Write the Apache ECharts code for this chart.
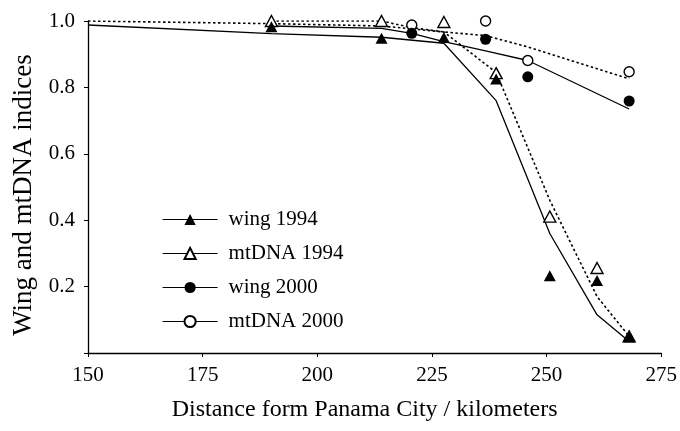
<!DOCTYPE html>
<html>
<head>
<meta charset="utf-8">
<script src="https://cdn.jsdelivr.net/npm/echarts@6/dist/echarts.min.js"></script>
<style>
  html, body { margin: 0; padding: 0; background: #fff; }
  #main { width: 680px; height: 431px; }
</style>
</head>
<body>
<div id="main"></div>
<script>
// sample sites, km from Panama City
const siteKm94 = [190, 214, 227.6, 239, 250.7, 261, 268];
const wing94 = [0.983, 0.948, 0.95, 0.825, 0.233, 0.218, 0.048];
const mtdna94 = [1.0, 1.0, 0.997, 0.843, 0.411, 0.256, 0.05];

const siteKm00 = [220.6, 236.7, 245.9, 268];
const wing00 = [0.963, 0.945, 0.832, 0.759];
const mtdna00 = [0.988, 1.0, 0.881, 0.847];

// fitted clines
const fitWing94Km = [150, 190, 214, 227.6, 239, 250.7, 261, 268];
const fitWing94 = [0.988, 0.962, 0.951, 0.933, 0.76, 0.36, 0.115, 0.035];
const fitMt94Km = [150, 190, 214, 227.6, 239, 250.7, 261, 268];
const fitMt94 = [1.0, 0.992, 0.985, 0.967, 0.845, 0.46, 0.17, 0.05];
const fitWing00Km = [190, 214, 220.6, 227.6, 236.7, 245.9, 268];
const fitWing00 = [0.985, 0.978, 0.963, 0.938, 0.91, 0.881, 0.735];
const fitMt00Km = [190, 214, 220.6, 227.6, 236.7, 245.9, 268];
const fitMt00 = [1.0, 1.0, 0.98, 0.967, 0.956, 0.922, 0.826];

const xTicks = [150, 175, 200, 225, 250, 275];
const legendNames = ['wing 1994', 'mtDNA 1994', 'wing 2000', 'mtDNA 2000'];

const font = 'Liberation Serif';
const pair = (xs, ys) => xs.map((x, i) => [x, ys[i]]);

const pointSeries = (name, xs, ys, symbol, size, filled, z) => ({
  name: name,
  type: 'line',
  data: pair(xs, ys),
  symbol: symbol,
  symbolSize: size,
  showAllSymbol: true,
  lineStyle: { width: 0, opacity: 0 },
  itemStyle: { color: filled ? '#000' : '#fff', borderColor: '#000', borderWidth: filled ? 0 : 1.4, opacity: 1 },
  emphasis: { disabled: true },
  z: z
});

const fitSeries = (name, xs, ys, dotted) => ({
  name: name,
  type: 'line',
  data: pair(xs, ys),
  symbol: 'none',
  lineStyle: { color: '#000', width: dotted ? 1.6 : 1.3, type: dotted ? [2.5, 2.5] : 'solid' },
  emphasis: { disabled: true },
  z: 2
});

const myChart = echarts.init(document.getElementById('main'));
myChart.setOption({
  animation: false,
  backgroundColor: '#fff',
  grid: { left: 88, right: 17, top: 21, bottom: 78 },
  legend: {
    data: legendNames,
    orient: 'vertical',
    left: 162,
    top: 209,
    padding: 0,
    itemWidth: 55,
    itemHeight: 14,
    itemGap: 13,
    textStyle: { fontFamily: font, fontSize: 21, color: '#000', padding: [0, 0, 0, 6] },
    lineStyle: { color: '#000', width: 1.2, opacity: 1, type: 'solid' }
  },
  xAxis: {
    type: 'value',
    min: 150,
    max: 275,
    interval: 25,
    name: 'Distance form Panama City / kilometers',
    nameLocation: 'middle',
    nameGap: 45,
    nameTextStyle: { fontFamily: font, fontSize: 24, color: '#000', padding: [0, 20, 0, 0] },
    axisLine: { lineStyle: { color: '#000', width: 1.3 } },
    axisTick: { length: 4, lineStyle: { color: '#000' } },
    axisLabel: {
      margin: 12, fontFamily: font, fontSize: 21, color: '#000',
      formatter: (v) => xTicks.includes(v) ? String(v) : ''
    },
    splitLine: { show: false }
  },
  yAxis: {
    type: 'value',
    min: 0,
    max: 1,
    interval: 0.2,
    name: 'Wing and mtDNA indices',
    nameLocation: 'middle',
    nameGap: 50,
    nameTextStyle: { fontFamily: font, fontSize: 27, color: '#000', padding: [0, 16, 0, 0] },
    axisLine: { show: true, lineStyle: { color: '#000', width: 1.3 } },
    axisTick: { show: true, length: 4, lineStyle: { color: '#000' } },
    axisLabel: {
      margin: 13, fontFamily: font, fontSize: 21, color: '#000',
      formatter: (v) => v === 0 ? '' : v.toFixed(1)
    },
    splitLine: { show: false }
  },
  series: [
    fitSeries('fit wing 1994', fitWing94Km, fitWing94, false),
    fitSeries('fit wing 2000', fitWing00Km, fitWing00, false),
    fitSeries('fit mtDNA 1994', fitMt94Km, fitMt94, true),
    fitSeries('fit mtDNA 2000', fitMt00Km, fitMt00, true),
    pointSeries('mtDNA 1994', siteKm94, mtdna94, 'triangle', [12, 11], false, 5),
    pointSeries('wing 1994', siteKm94, wing94, 'triangle', [12, 11], true, 6),
    pointSeries('mtDNA 2000', siteKm00, mtdna00, 'circle', 10, false, 5),
    pointSeries('wing 2000', siteKm00, wing00, 'circle', 11, true, 6)
  ]
});

window.onresize = function () {
  myChart.resize();
};
</script>
</body>
</html>
